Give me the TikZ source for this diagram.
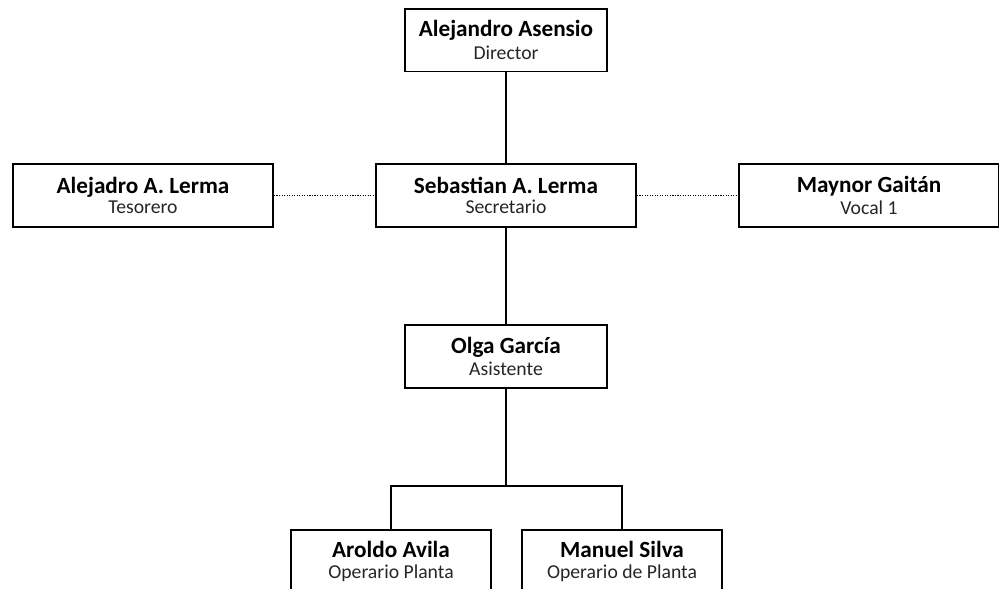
\documentclass[tikz,border=0pt]{standalone}
\usepackage{fontspec}
\setmainfont{Carlito}
\usepackage{tikz}
\tikzset{
    person/.style={draw=black, line width=1.3pt, fill=white, align=center,
        inner sep=0pt, minimum height=1.57cm, text=black},
    wide/.style={person, minimum width=6.5cm},
    narrow/.style={person, minimum width=5.05cm},
    link/.style={line width=1.3pt},
    peer/.style={line width=0.8pt, densely dotted}}
\newcommand{\who}[2]{{\fontsize{16.5}{16}\selectfont\bfseries #1}\\[2.5pt]{\fontsize{14}{15}\selectfont\color{black!85} #2}}

\begin{document}
\begin{tikzpicture}[x=0.025cm, y=-0.025cm]
        \clip (0,0) rectangle (999,588);
        \fill[white] (0,0) rectangle (999,588);

                    \node[narrow] (D) at (506,40) {\who{Alejandro Asensio}{Director}};
                    \node[wide] (T) at (143,195.5) {\who{Alejadro A. Lerma}{Tesorero}};
                    \node[wide] (S) at (506,195.5) {\who{Sebastian A. Lerma}{Secretario}};
                    \node[wide] (V) at (869,195.5) {\who{Maynor Gaitán}{Vocal 1}};
                    \node[narrow] (O) at (506,356.5) {\who{Olga García}{Asistente}};
                    \node[narrow, minimum width=5cm] (P1) at (391,561.5) {\who{Aroldo Avila}{Operario Planta}};
                    \node[narrow, minimum width=5cm] (P2) at (622,561.5) {\who{Manuel Silva}{Operario de Planta}};
                    \coordinate (J) at (506,486);

                    \draw[link] (D) -- (S);
                    \draw[link] (S) -- (O);
                    \draw[link] (O) -- (J);
                    \draw[link] (P1.north) |- (J) -| (P2.north);
                    \draw[peer] (T) -- (S);
                    \draw[peer] (S) -- (V);

                \end{tikzpicture}
\end{document}
